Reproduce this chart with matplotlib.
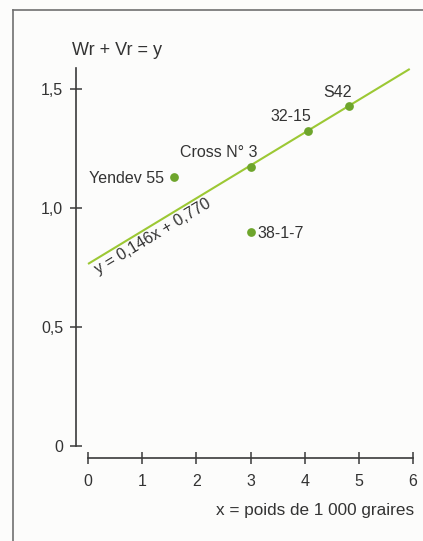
import matplotlib
matplotlib.use('Agg')
import matplotlib.pyplot as plt
from matplotlib.lines import Line2D

# varieties: x = poids de 1 000 graires, y = Wr + Vr
names = ['Yendev 55', 'Cross N° 3', '38-1-7', '32-15', 'S42']
poids = [1.58, 3.0, 3.0, 4.06, 4.82]
wr_vr = [1.132, 1.174, 0.90, 1.325, 1.429]

# regression line y = 0,146x + 0,770 (end points)
reg_x = [0.0, 5.94]
reg_y = [0.765, 1.584]

xticks = [0, 1, 2, 3, 4, 5, 6]
yticks = [0, 0.5, 1.0, 1.5]
ytick_labels = ['0', '0,5', '1,0', '1,5']

W, H = 423, 541
DPI = 100
ink = '#3a3a3a'
dot_green = '#6ea52c'
line_green = '#9cc834'

plt.rcParams['font.family'] = ['Liberation Sans', 'DejaVu Sans']

fig = plt.figure(figsize=(W / DPI, H / DPI), dpi=DPI, facecolor='#fcfcfb')

# axes box in pixels: left 76, right 413, top 68, bottom 458
ax = fig.add_axes([76 / W, 1 - 458 / H, (413 - 76) / W, (458 - 68) / H])
ax.patch.set_alpha(0)
ax.set_xlim(-0.222, 6)
ax.set_ylim(-0.05, 1.588)

for s in ['top', 'right']:
    ax.spines[s].set_visible(False)
ax.spines['left'].set_bounds(0, 1.588)
ax.spines['bottom'].set_bounds(0, 6)
for s in ['left', 'bottom']:
    ax.spines[s].set_color(ink)
    ax.spines[s].set_linewidth(1.2)

ax.set_xticks(xticks)
ax.set_xticklabels([str(t) for t in xticks])
ax.set_yticks(yticks)
ax.set_yticklabels(ytick_labels)
ax.tick_params(direction='inout', length=8.6, width=1.1, color=ink,
               labelcolor='#333333', labelsize=11.5)
ax.tick_params(axis='x', pad=7)
ax.tick_params(axis='y', pad=5)

ax.plot(reg_x, reg_y, color=line_green, lw=1.5, solid_capstyle='butt', zorder=2)
ax.plot(poids, wr_vr, 'o', color=dot_green, ms=6.3, mec='none', zorder=3)

offsets = {
    'Yendev 55': ((-7, 0), 'right', 'center_baseline'),
    'Cross N° 3': ((-23, 7), 'center', 'baseline'),
    '38-1-7': ((5, 0), 'left', 'center_baseline'),
    '32-15': ((-12, 7), 'center', 'baseline'),
    'S42': ((-8, 6.5), 'center', 'baseline'),
}
for n, x, y in zip(names, poids, wr_vr):
    off, ha, va = offsets[n]
    ax.annotate(n, (x, y), xytext=off, textcoords='offset points',
                ha=ha, va=va, fontsize=11.5, color='#333333')

ax.text(0.2, 0.72, 'y = 0,146x + 0,770', rotation=31, rotation_mode='anchor',
        ha='left', va='baseline', fontsize=11.5, color='#333333')

fig.text(72 / W, 1 - 55 / H, 'Wr + Vr = y', ha='left', va='baseline',
         fontsize=13, color='#333333')
fig.text(414 / W, 1 - 515 / H, 'x = poids de 1 000 graires', ha='right',
         va='baseline', fontsize=12.3, color='#333333')

# grey frame (left and top edges)
fig.add_artist(Line2D([13 / W, 13 / W], [0, 1 - 10 / H], color='#707070', lw=1.2))
fig.add_artist(Line2D([13 / W, 1], [1 - 10 / H, 1 - 10 / H], color='#707070', lw=1.2))

fig.savefig('out.png', dpi=DPI, facecolor=fig.get_facecolor())
